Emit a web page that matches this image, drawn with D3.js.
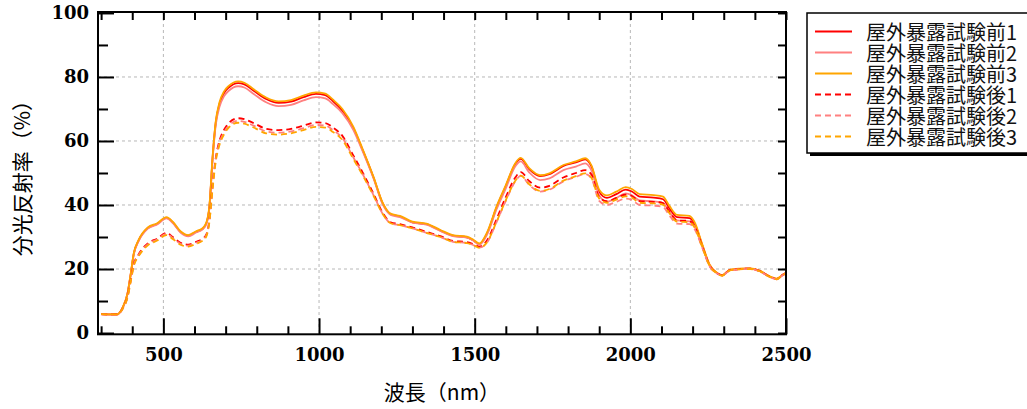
<!DOCTYPE html>
<html>
<head>
<meta charset="utf-8">
<script src="https://cdn.jsdelivr.net/npm/d3@7"></script>
<style>
  body { margin: 0; background: #fff; }
  svg { display: block; }
</style>
</head>
<body>
<svg id="chart"></svg>
<script>
var w = 1027;
var h = 409;

// wavelength (nm)
var wavelengths = [300, 350, 370, 385, 395, 405, 420, 450, 480, 510, 530, 555, 580, 605, 625, 638, 648, 658, 668, 680,
  695, 710, 740, 760, 790, 830, 870, 910, 950, 990, 1020, 1045, 1075, 1110, 1140, 1175, 1205, 1230, 1260, 1300,
  1345, 1390, 1430, 1475, 1495, 1515, 1540, 1570, 1600, 1630, 1648, 1675, 1710, 1740, 1785, 1825, 1855, 1875, 1900, 1925,
  1955, 1985, 2005, 2030, 2075, 2105, 2125, 2150, 2190, 2208, 2230, 2255, 2280, 2295, 2320, 2350, 2385, 2415, 2450, 2470,
  2490, 2500];

// 屋外暴露試験前1
var before1 = [5.9, 5.8, 8.1, 12.4, 18.3, 24.8, 28.8, 32.8, 34.1, 36.0, 34.6, 31.6, 30.4, 31.6, 32.5, 34.3, 39.6, 54.6, 65.6, 71.5,
  75.0, 76.7, 78.1, 77.7, 75.7, 73.1, 71.9, 72.3, 73.7, 74.7, 74.3, 72.4, 69.5, 64.1, 57.2, 48.6, 40.4, 37.1, 36.4, 34.6,
  34.0, 32.0, 30.4, 29.9, 29.0, 27.8, 31.2, 39.2, 45.9, 52.7, 54.4, 51.2, 49.0, 49.6, 52.2, 53.3, 54.3, 52.1, 44.1, 42.2,
  43.4, 44.8, 44.2, 42.6, 42.3, 41.8, 39.0, 36.2, 35.9, 33.8, 27.7, 21.2, 18.6, 18.0, 19.7, 20.0, 20.1, 19.4, 17.5, 16.9,
  18.2, 18.7];
// 屋外暴露試験前2
var before2 = [5.8, 5.7, 8.0, 12.2, 18.1, 24.6, 28.6, 32.6, 33.9, 35.8, 34.4, 31.4, 30.2, 31.4, 32.3, 34.0, 39.2, 54.0, 64.8, 70.6,
  74.0, 75.7, 77.1, 76.7, 74.7, 72.1, 70.9, 71.3, 72.7, 73.7, 73.3, 71.5, 68.7, 63.5, 56.8, 48.3, 40.1, 36.9, 36.2, 34.5,
  33.9, 31.9, 30.3, 29.8, 28.9, 27.6, 30.8, 38.6, 45.2, 52.0, 53.6, 50.2, 47.8, 48.3, 50.9, 52.0, 53.0, 50.8, 43.0, 41.0,
  42.2, 43.6, 43.0, 41.4, 41.1, 40.6, 38.0, 35.2, 34.9, 33.0, 27.4, 21.1, 18.6, 18.0, 19.7, 20.0, 20.1, 19.4, 17.5, 16.9,
  18.2, 18.7];
// 屋外暴露試験前3
var before3 = [5.9, 5.8, 8.2, 12.5, 18.5, 25.0, 29.0, 33.0, 34.3, 36.2, 34.8, 31.8, 30.6, 31.8, 32.7, 34.5, 40.0, 55.0, 66.0, 72.0,
  75.5, 77.2, 78.6, 78.2, 76.2, 73.6, 72.4, 72.8, 74.2, 75.2, 74.8, 72.9, 70.0, 64.5, 57.5, 48.8, 40.6, 37.3, 36.6, 34.8,
  34.2, 32.2, 30.6, 30.1, 29.2, 28.0, 31.5, 39.5, 46.2, 53.0, 54.7, 51.5, 49.3, 49.9, 52.5, 53.6, 54.6, 52.4, 44.8, 43.0,
  44.2, 45.6, 45.0, 43.4, 43.1, 42.6, 39.8, 36.9, 36.6, 34.3, 28.0, 21.3, 18.7, 18.1, 19.8, 20.1, 20.2, 19.5, 17.6, 17.0,
  18.3, 18.8];
// 屋外暴露試験後1
var after1 = [5.9, 5.8, 7.8, 11.5, 16.5, 21.5, 24.5, 28.0, 29.5, 31.3, 30.0, 28.2, 27.6, 28.5, 29.4, 30.8, 35.5, 46.0, 54.5, 60.0,
  63.5, 65.6, 67.1, 66.8, 65.6, 63.8, 63.4, 63.8, 64.8, 65.8, 65.6, 64.2, 61.6, 55.5, 50.2, 43.5, 37.5, 34.6, 34.0, 33.0,
  31.6, 30.3, 28.8, 28.4, 27.8, 27.0, 29.0, 35.5, 42.5, 48.5, 50.3, 47.5, 45.4, 46.0, 48.6, 50.0, 50.9, 49.5, 42.5, 41.2,
  42.2, 43.2, 42.8, 41.2, 41.0, 40.6, 38.0, 35.2, 35.0, 33.0, 27.3, 21.0, 18.6, 18.0, 19.7, 20.0, 20.1, 19.4, 17.5, 16.9,
  18.2, 18.7];
// 屋外暴露試験後2
var after2 = [5.8, 5.7, 7.7, 11.3, 16.2, 21.2, 24.2, 27.7, 29.2, 31.0, 29.7, 27.9, 27.3, 28.2, 29.1, 30.5, 35.1, 45.5, 54.0, 59.3,
  62.7, 64.8, 66.3, 66.0, 64.8, 63.0, 62.6, 63.0, 64.0, 65.0, 64.8, 63.4, 60.9, 54.9, 49.7, 43.1, 37.2, 34.3, 33.7, 32.7,
  31.3, 30.0, 28.5, 28.1, 27.5, 26.7, 28.3, 34.6, 41.3, 47.3, 49.1, 46.3, 44.2, 44.8, 47.4, 48.8, 49.7, 48.3, 41.3, 40.0,
  41.0, 42.0, 41.6, 40.0, 39.8, 39.4, 36.8, 34.2, 34.0, 32.2, 26.9, 20.8, 18.5, 17.9, 19.6, 19.9, 20.0, 19.3, 17.4, 16.8,
  18.1, 18.6];
// 屋外暴露試験後3
var after3 = [5.9, 5.8, 7.7, 11.2, 16.0, 21.0, 23.9, 27.4, 28.9, 30.6, 29.4, 27.6, 27.0, 27.9, 28.8, 30.2, 34.8, 45.0, 53.4, 58.7,
  62.1, 64.2, 65.7, 65.4, 64.2, 62.4, 62.0, 62.4, 63.4, 64.4, 64.2, 62.8, 60.3, 54.4, 49.3, 42.9, 37.1, 34.3, 33.7, 32.7,
  31.3, 30.0, 28.5, 28.1, 27.5, 26.6, 28.4, 34.7, 41.5, 47.5, 49.2, 46.5, 44.4, 45.0, 47.6, 49.0, 49.9, 48.5, 42.0, 40.7,
  41.7, 42.7, 42.3, 40.7, 40.5, 40.1, 37.5, 34.8, 34.6, 32.7, 27.1, 20.9, 18.5, 17.9, 19.6, 19.9, 20.0, 19.3, 17.4, 16.8,
  18.1, 18.6];

var seriesNames = ['屋外暴露試験前1', '屋外暴露試験前2', '屋外暴露試験前3', '屋外暴露試験後1', '屋外暴露試験後2', '屋外暴露試験後3'];
var seriesValues = [before1, before2, before3, after1, after2, after3];
var seriesColors = ['#ff0000', '#ff8080', '#ffa500', '#ff0000', '#ff8080', '#ffa500'];
var seriesDashed = [false, false, false, true, true, true];

var xMajor = [500, 1000, 1500, 2000, 2500];
var xMinor = [300, 400, 600, 700, 800, 900, 1100, 1200, 1300, 1400, 1600, 1700, 1800, 1900, 2100, 2200, 2300, 2400];
var yMajor = [0, 20, 40, 60, 80, 100];
var yMinor = [10, 30, 50, 70, 90];

// plot box (window.top is reserved, so use other names)
var pLeft = 98, pRight = 786, pTop = 12, pBottom = 334.3;

var svg = d3.select('#chart').attr('width', w).attr('height', h);

var x = d3.scaleLinear().domain([290, 2500]).range([pLeft, pRight]);
var y = d3.scaleLinear().domain([-0.4, 100.3]).range([pBottom, pTop]);

// grid
svg.append('g').selectAll('line')
  .data(xMajor.slice(0, 4))
  .enter().append('line')
  .attr('x1', function (d) { return x(d); })
  .attr('x2', function (d) { return x(d); })
  .attr('y1', pTop).attr('y2', pBottom)
  .attr('stroke', '#b8b8b8').attr('stroke-dasharray', '3,3');
svg.append('g').selectAll('line')
  .data(yMajor.slice(1, 5))
  .enter().append('line')
  .attr('y1', function (d) { return y(d); })
  .attr('y2', function (d) { return y(d); })
  .attr('x1', pLeft).attr('x2', pRight)
  .attr('stroke', '#b8b8b8').attr('stroke-dasharray', '3,3');

// lines
var line = d3.line()
  .x(function (d) { return x(d[0]); })
  .y(function (d) { return y(d[1]); })
  .curve(d3.curveMonotoneX);

seriesValues.forEach(function (vals, i) {
  svg.append('path')
    .datum(wavelengths.map(function (wl, j) { return [wl, vals[j]]; }))
    .attr('d', line)
    .attr('fill', 'none')
    .attr('stroke', seriesColors[i])
    .attr('stroke-width', 1.8)
    .attr('stroke-dasharray', seriesDashed[i] ? '6,4' : null);
});

// axes, ticks pointing inward on all four sides
function noLabels(a) { return a.tickFormat(''); }

var gx = svg.append('g').attr('transform', 'translate(0,' + pBottom + ')');
gx.call(d3.axisBottom(x).tickValues(xMajor).tickSize(-16).tickPadding(14).tickFormat(d3.format('d')));
gx.append('g').call(noLabels(d3.axisBottom(x).tickValues(xMinor).tickSize(-8)));

svg.append('g').attr('transform', 'translate(0,' + pTop + ')')
  .call(noLabels(d3.axisTop(x).tickValues(xMajor.concat(xMinor)).tickSize(-8)));

var gy = svg.append('g').attr('transform', 'translate(' + pLeft + ',0)');
gy.call(d3.axisLeft(y).tickValues(yMajor).tickSize(-16).tickPadding(9).tickFormat(d3.format('d')));
gy.append('g').call(noLabels(d3.axisLeft(y).tickValues(yMinor).tickSize(-10)));

svg.append('g').attr('transform', 'translate(' + pRight + ',0)')
  .call(noLabels(d3.axisRight(y).tickValues(yMajor.concat(yMinor)).tickSize(-8)));

svg.selectAll('.domain').remove();
svg.selectAll('.tick line').attr('stroke', '#000').attr('stroke-width', 2);
svg.selectAll('.tick text')
  .attr('fill', '#000')
  .style('font-family', '"DejaVu Serif", serif')
  .style('font-weight', 'bold')
  .style('font-size', '18px');

// frame
svg.append('rect')
  .attr('x', pLeft).attr('y', pTop)
  .attr('width', pRight - pLeft).attr('height', pBottom - pTop)
  .attr('fill', 'none').attr('stroke', '#000').attr('stroke-width', 2);

// axis titles
svg.append('text')
  .attr('x', (pLeft + pRight) / 2).attr('y', 400)
  .attr('text-anchor', 'middle')
  .style('font-family', '"Noto Sans CJK JP", sans-serif')
  .style('font-size', '21px')
  .text('波長（nm）');

svg.append('text')
  .attr('transform', 'translate(30,' + (pTop + pBottom) / 2 + ') rotate(-90)')
  .attr('text-anchor', 'middle')
  .style('font-family', '"Noto Sans CJK JP", sans-serif')
  .style('font-size', '21px')
  .text('分光反射率（%）');

// legend
var lg = svg.append('g').attr('transform', 'translate(807,13)');
lg.append('rect').attr('x', 3).attr('y', 3).attr('width', 260).attr('height', 140).attr('fill', '#000');
lg.append('rect').attr('width', 260).attr('height', 140)
  .attr('fill', '#fff').attr('stroke', '#000').attr('stroke-width', 1.5);

var rows = lg.selectAll('g.row')
  .data(seriesNames)
  .enter().append('g')
  .attr('class', 'row')
  .attr('transform', function (d, i) { return 'translate(0,' + (18.5 + i * 21) + ')'; });

rows.append('line')
  .attr('x1', 8).attr('x2', 45)
  .attr('stroke', function (d, i) { return seriesColors[i]; })
  .attr('stroke-width', 2)
  .attr('stroke-dasharray', function (d, i) { return seriesDashed[i] ? '6,4' : null; });

rows.append('text')
  .attr('x', 59).attr('y', 0)
  .attr('dominant-baseline', 'central')
  .style('font-family', '"Noto Sans CJK JP", sans-serif')
  .style('font-size', '20px')
  .attr('fill', '#111')
  .text(function (d) { return d; });
</script>
</body>
</html>
